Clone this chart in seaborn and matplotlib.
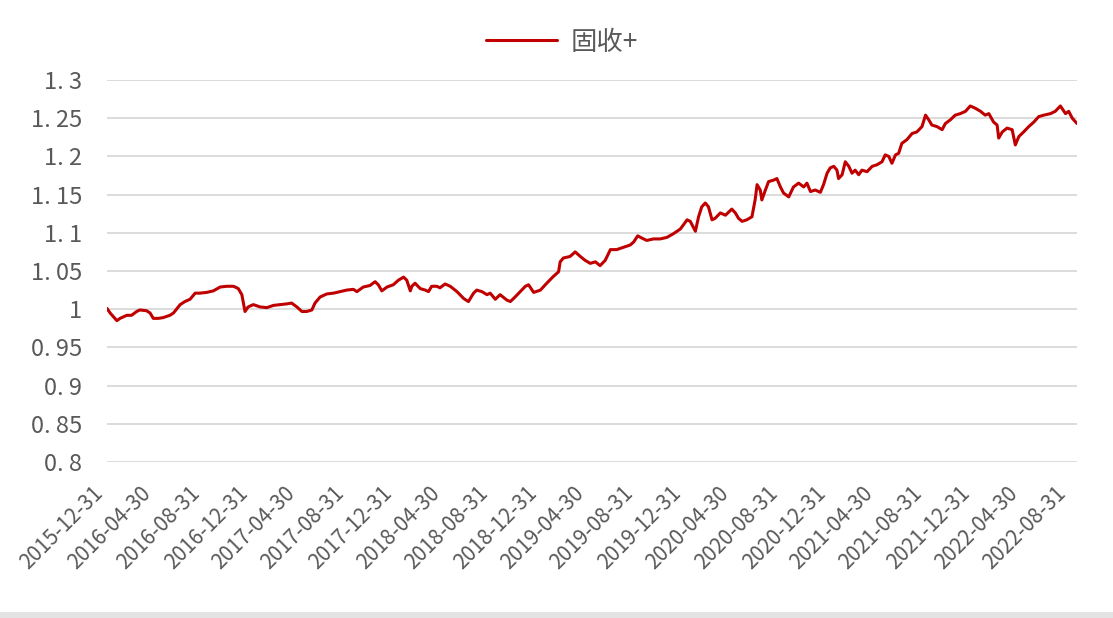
import pandas as pd
import numpy as np
import matplotlib
matplotlib.use('Agg')
import matplotlib.pyplot as plt
import matplotlib.transforms as mtransforms
import seaborn as sns
from matplotlib.patches import Rectangle

# --- data ---
start_date = '2015-12-31'
# days since start_date
day_offsets = [
    0, 8, 25, 33, 50, 62, 75, 83, 100, 109, 117, 130, 142, 159, 168, 185, 197, 210,
    223, 235, 252, 269, 286, 303, 320, 332, 341, 349, 357, 370, 387, 404, 421, 438,
    455, 467, 480, 493, 505, 518, 526, 539, 556, 573, 589,
    606, 623, 632, 648, 665, 678, 686, 695, 708, 724, 737, 750, 758, 767, 771, 779,
    792, 805, 813, 821, 834, 842, 855, 868, 885, 902, 914, 927, 935, 948, 961, 969,
    982, 994, 1011, 1020, 1032, 1045, 1058, 1066, 1079, 1096, 1112, 1129, 1142, 1146,
    1154, 1171, 1184, 1197,
    1209, 1222, 1235, 1247, 1260, 1273, 1289, 1306, 1323, 1332, 1342, 1353, 1365,
    1382, 1399, 1416, 1433, 1450, 1467, 1475, 1488, 1496, 1504, 1513, 1521, 1530,
    1538, 1551, 1564, 1580, 1589, 1597, 1606, 1618, 1631, 1639, 1644, 1652, 1656,
    1665, 1673, 1686, 1694, 1703, 1711, 1724, 1736, 1749, 1762, 1770, 1779, 1791, 1804,
    1812, 1821, 1829, 1838, 1846, 1850, 1859, 1867, 1876, 1884, 1892, 1901, 1909,
    1922, 1935, 1947, 1960, 1968, 1977, 1985, 1994, 2002, 2010, 2023, 2036, 2048,
    2061, 2070, 2078, 2086, 2099, 2112, 2120, 2133, 2145, 2158, 2171, 2183, 2196,
    2209, 2221, 2230, 2242, 2251, 2255, 2264, 2276, 2289, 2297, 2306, 2318, 2331,
    2344, 2356, 2369, 2386, 2398, 2411, 2424, 2432, 2441, 2453,
]
nav_values = [
    1.001, 0.995, 0.985, 0.988, 0.992, 0.992, 0.997, 0.999, 0.998, 0.995, 0.988, 0.988,
    0.989, 0.992, 0.995, 1.006, 1.010, 1.013, 1.021, 1.021, 1.022, 1.024, 1.029, 1.030,
    1.030, 1.027, 1.019, 0.997, 1.003, 1.006, 1.003, 1.002, 1.005, 1.006, 1.007, 1.008,
    1.003, 0.997, 0.997, 0.999, 1.008, 1.016, 1.020, 1.021, 1.023,
    1.025, 1.026, 1.023, 1.029, 1.031, 1.036, 1.032, 1.024, 1.029, 1.032, 1.038, 1.042,
    1.038, 1.024, 1.030, 1.034, 1.027, 1.025, 1.023, 1.030, 1.030, 1.028, 1.033, 1.030,
    1.023, 1.014, 1.010, 1.021, 1.025, 1.023, 1.019, 1.021, 1.013, 1.019, 1.012, 1.010,
    1.016, 1.023, 1.030, 1.032, 1.022, 1.025, 1.034, 1.043, 1.049, 1.062, 1.067, 1.069,
    1.075, 1.069,
    1.064, 1.060, 1.062, 1.057, 1.064, 1.078, 1.078, 1.081, 1.084, 1.088, 1.096, 1.093,
    1.090, 1.092, 1.092, 1.094, 1.099, 1.105, 1.117, 1.115, 1.102, 1.121, 1.134, 1.139,
    1.134, 1.117, 1.119, 1.126, 1.123, 1.131, 1.126, 1.119, 1.115, 1.117, 1.121, 1.143,
    1.163, 1.156, 1.143, 1.156, 1.167, 1.169, 1.171, 1.160, 1.152, 1.147, 1.160, 1.165,
    1.160, 1.165, 1.154, 1.156, 1.153,
    1.163, 1.178, 1.185, 1.187, 1.182, 1.171, 1.176, 1.193, 1.187, 1.178, 1.182, 1.176,
    1.182, 1.180, 1.187, 1.189, 1.193, 1.202, 1.200, 1.191, 1.202, 1.204, 1.217, 1.222,
    1.230, 1.232, 1.239, 1.254, 1.248, 1.241, 1.239, 1.235, 1.243, 1.248, 1.254, 1.256,
    1.259, 1.266, 1.263, 1.259, 1.254, 1.256, 1.245, 1.241, 1.224, 1.232, 1.237, 1.235,
    1.215, 1.226, 1.232, 1.239, 1.245, 1.252, 1.254, 1.256, 1.259, 1.266, 1.256, 1.259,
    1.250, 1.243,
]
series_name = '固收+'

xtick_labels = [
    '2015-12-31', '2016-04-30', '2016-08-31', '2016-12-31', '2017-04-30',
    '2017-08-31', '2017-12-31', '2018-04-30', '2018-08-31', '2018-12-31',
    '2019-04-30', '2019-08-31', '2019-12-31', '2020-04-30', '2020-08-31',
    '2020-12-31', '2021-04-30', '2021-08-31', '2021-12-31', '2022-04-30',
    '2022-08-31',
]
ytick_values = [0.8, 0.85, 0.9, 0.95, 1.0, 1.05, 1.1, 1.15, 1.2, 1.25, 1.3]
ytick_labels = ['0. 8', '0. 85', '0. 9', '0. 95', '1', '1. 05', '1. 1', '1. 15',
                '1. 2', '1. 25', '1. 3']

df = pd.DataFrame({
    'date': pd.Timestamp(start_date) + pd.to_timedelta(day_offsets, unit='D'),
    'value': nav_values,
})

# --- style ---
sns.set_style('white')
plt.rcParams['font.family'] = ['Noto Sans CJK SC', 'DejaVu Sans']
text_gray = '#595959'
line_red = '#C00000'

fig = plt.figure(figsize=(11.13, 6.18), dpi=100)
ax = fig.add_axes([107 / 1113, 1 - 462 / 618, (1077 - 107) / 1113, (462 - 80) / 618])

sns.lineplot(data=df, x='date', y='value', color=line_red, linewidth=2.2,
             label=series_name, ax=ax)

ax.set_xlim(pd.Timestamp(start_date), df['date'].iloc[-1])
ax.set_ylim(0.8, 1.3)

ax.set_yticks(ytick_values)
ax.set_yticklabels(ytick_labels, fontsize=17, color=text_gray)
ax.set_xticks(pd.to_datetime(xtick_labels))
ax.set_xticklabels(xtick_labels, rotation=45, ha='right', va='center',
                   rotation_mode='anchor', fontsize=15, color=text_gray)
ax.tick_params(axis='both', length=0)
ax.tick_params(axis='x', pad=20)
ax.tick_params(axis='y', pad=18)

# nudge the date labels a little to the left, like the original
shift = mtransforms.ScaledTranslation(-7 / 100, 0, fig.dpi_scale_trans)
for lbl in ax.get_xticklabels():
    lbl.set_transform(lbl.get_transform() + shift)

ax.grid(axis='y', color='#d9d9d9', linewidth=1.3)
ax.grid(axis='x', visible=False)
for s in ax.spines.values():
    s.set_visible(False)
ax.set_xlabel('')
ax.set_ylabel('')

ax.get_legend().remove()
handles, labels = ax.get_legend_handles_labels()
leg = fig.legend(handles, labels, loc='center', bbox_to_anchor=(562 / 1113, 1 - 42 / 618),
                 frameon=False, fontsize=19, handlelength=2.7, handletextpad=0.5)
for t in leg.get_texts():
    t.set_color(text_gray)

# thin gray band at the bottom edge
fig.patches.append(Rectangle((0, 0), 1, 6 / 618, transform=fig.transFigure,
                             facecolor='#e3e3e3', edgecolor='none'))

fig.savefig('out.png', dpi=100)
